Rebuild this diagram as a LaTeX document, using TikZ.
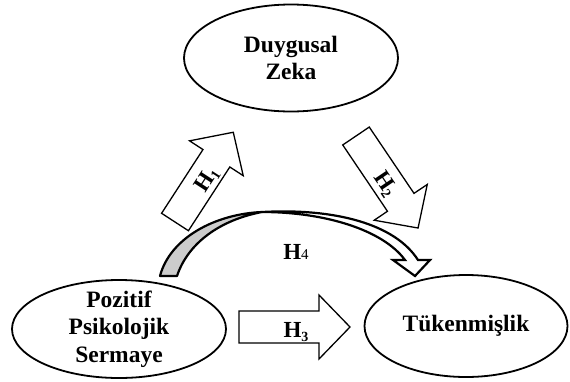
\documentclass[tikz,border=0pt]{standalone}
\usepackage{fontspec}
\setmainfont{Liberation Serif}
\usetikzlibrary{shapes.geometric}
\tikzset{
  construct/.style={ellipse, draw, line width=1.8pt, fill=white, inner sep=0pt},
  constructtext/.style={align=center, inner sep=0pt, font=\fontsize{23.5}{27.5}\selectfont\bfseries},
  blockarrow/.style={draw, line width=1.3pt, fill=white, line join=miter},
  hyplabel/.style={inner sep=0pt, font=\fontsize{23}{23}\selectfont\bfseries},
  backface/.style={draw, line width=2.2pt, fill=black!20, line join=round},
  frontface/.style={draw, line width=2.2pt, fill=white, line join=miter},
}
\newcommand{\hsub}[1]{H\raisebox{-0.3ex}{\fontsize{14}{14}\selectfont#1}}
\newcommand{\harrow}[3]{% tail, angle, length
  \begin{scope}[shift={#1}, rotate=#2]
    \draw[blockarrow] (0,-16) -- ({#3-31},-16) -- ({#3-31},-32) -- (#3,0)
      -- ({#3-31},32) -- ({#3-31},16) -- (0,16) -- cycle;
  \end{scope}}

\begin{document}
\begin{tikzpicture}[x=1pt, y=-1pt]
  \useasboundingbox (0,0) rectangle (570,381);
  % curved arrow H4
  \draw[backface] (160,276) .. controls (170,238) and (215,214) .. (262,212)
    .. controls (220,220) and (188,243) .. (177,276) -- cycle;
  \draw[frontface] (262,212) .. controls (335,208) and (395,224) .. (418,260)
    -- (430,260) -- (415,276) -- (393,260) -- (405,260)
    .. controls (383,230) and (325,212) .. (262,212) -- cycle;
  % constructs
  \node[construct, minimum width=214pt, minimum height=107pt] (dz) at (291,58) {};
  \node[construct, minimum width=214pt, minimum height=98pt] (pps) at (119,329) {};
  \node[construct, minimum width=203pt, minimum height=102pt] (tk) at (466,326) {};
  \node[constructtext] (dztext) at (dz) {Duygusal\\Zeka};
  \node[constructtext] (ppstext) at (pps) {Pozitif\\Psikolojik\\Sermaye};
  \node[constructtext] (tktext) at (tk) {Tükenmişlik};
  % hypotheses
  \harrow{(175,222)}{57}{107}
  \harrow{(356,136)}{-56}{111}
  \harrow{(239,327)}{0}{111}
  \node[hyplabel, rotate=57] (h1) at (207,180) {\hsub{1}};
  \node[hyplabel, rotate=-56] (h2) at (385,184) {\hsub{2}};
  \node[hyplabel] (h3) at (296,332) {\hsub{3}};
  \node[hyplabel] (h4) at (296,252) {H{\fontsize{15}{15}\selectfont\mdseries 4}};
\end{tikzpicture}
\end{document}
